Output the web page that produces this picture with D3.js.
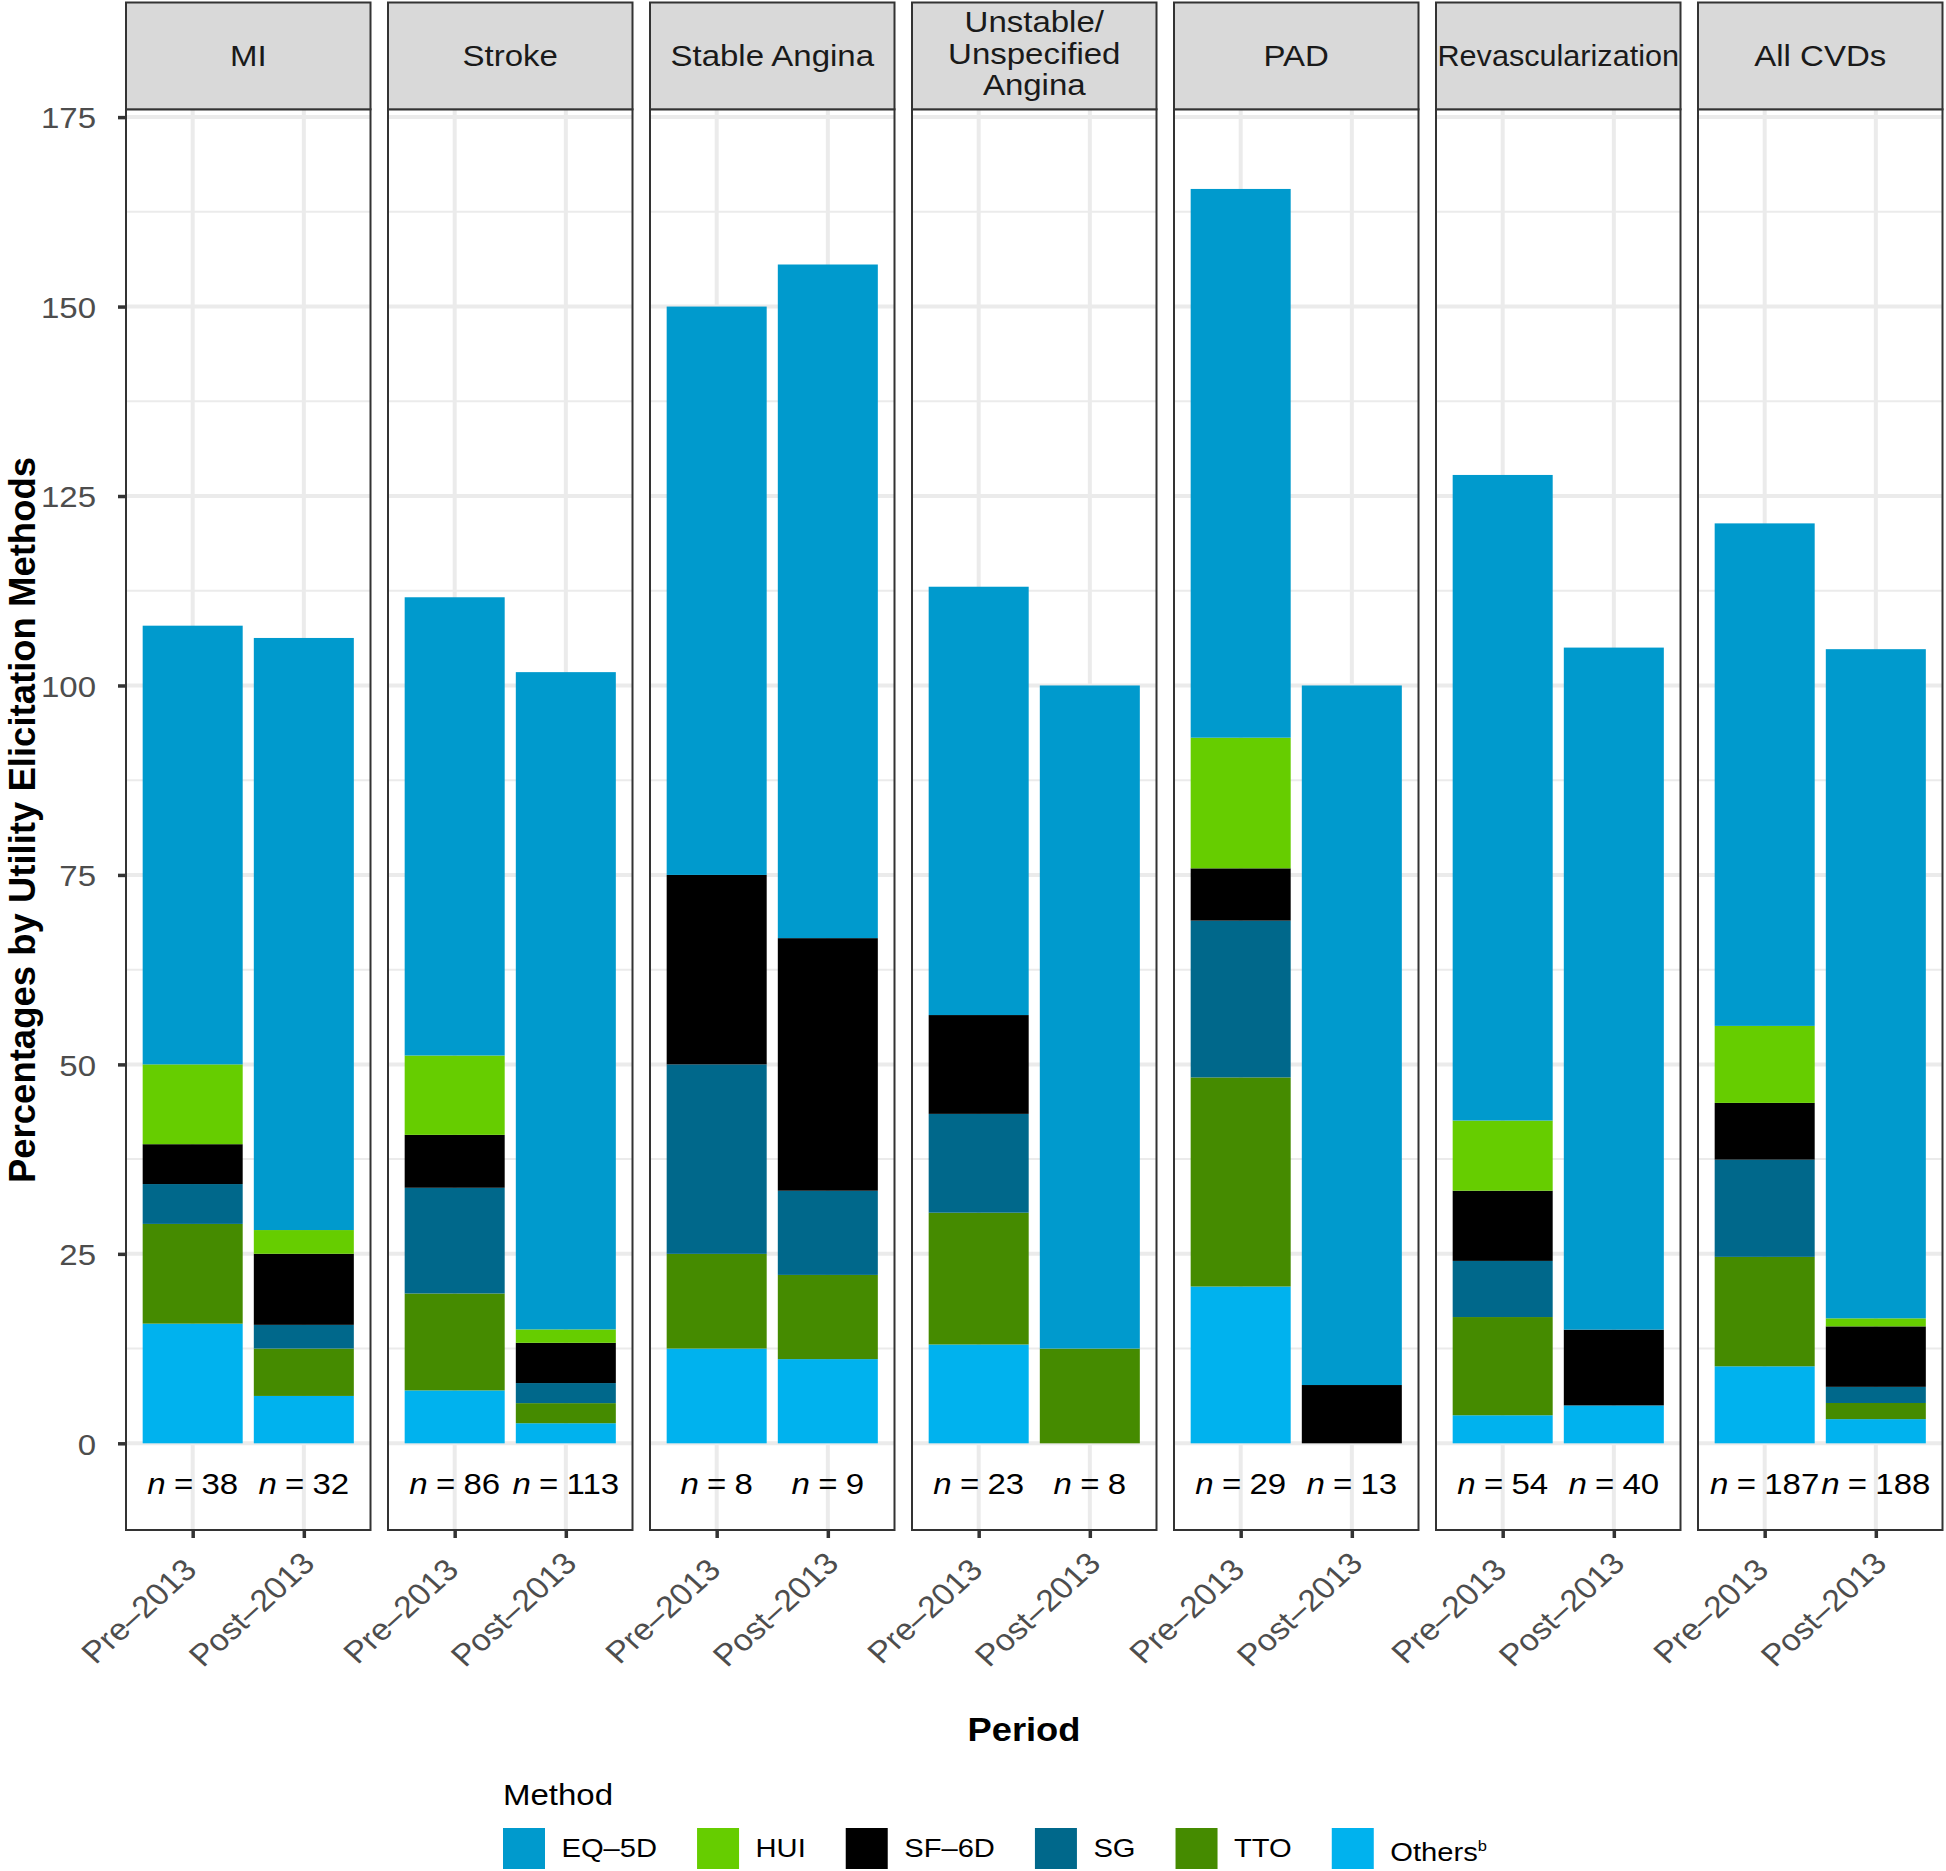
<!DOCTYPE html>
<html><head><meta charset="utf-8">
<script src="https://cdn.jsdelivr.net/npm/d3@7"></script>
<style>
body{margin:0;background:#fff}
svg{display:block}
text{font-family:"Liberation Sans",Arial,Helvetica,sans-serif}
</style>
</head><body>
<svg id="chart" width="1946" height="1871"></svg>
<script>
// ---------------- data ----------------
const facets = ["MI","Stroke","Stable Angina","Unstable/\nUnspecified\nAngina","PAD","Revascularization","All CVDs"];
const periods = ["Pre–2013","Post–2013"];
const methods = ["EQ–5D","HUI","SF–6D","SG","TTO","Others"];
const methodColors = ["#009ACD","#66CD00","#000000","#00688B","#458B00","#00B2EE"];
// percentages per facet: [Pre, Post]
const eq5d   = [[57.89,78.13],[60.47,86.73],[75.00,88.89],[56.52,87.50],[72.41,92.31],[85.19,90.00],[66.31,88.30]];
const hui    = [[10.53, 3.13],[10.47, 1.77],[ 0.00, 0.00],[ 0.00, 0.00],[17.24, 0.00],[ 9.26, 0.00],[10.16, 1.06]];
const sf6d   = [[ 5.26, 9.38],[ 6.98, 5.31],[25.00,33.33],[13.04, 0.00],[ 6.90, 7.69],[ 9.26,10.00],[ 7.49, 7.98]];
const sg     = [[ 5.26, 3.13],[13.95, 2.65],[25.00,11.11],[13.04, 0.00],[20.69, 0.00],[ 7.41, 0.00],[12.83, 2.13]];
const tto    = [[13.16, 6.25],[12.79, 2.65],[12.50,11.11],[17.39,12.50],[27.59, 0.00],[12.96, 0.00],[14.44, 2.13]];
const others = [[15.79, 6.25],[ 6.98, 2.65],[12.50,11.11],[13.04, 0.00],[20.69, 0.00],[ 3.70, 5.00],[10.16, 3.19]];
const nCounts = [[38,32],[86,113],[8,9],[23,8],[29,13],[54,40],[187,188]];
const yTicks = [0,25,50,75,100,125,150,175];
const yMinor = [12.5,37.5,62.5,87.5,112.5,137.5,162.5];

// ---------------- layout ----------------
const svg = d3.select("#chart");
const K = 1.1; // horizontal text stretch seen in the reference
const panelLeft = 126, panelW = 244.5, panelGap = 17.5;
const stripTop = 2.5, stripBottom = 109.3, panelBottom = 1530;
const grey20 = "#333333", grey30 = "#4D4D4D", grid = "#EBEBEB";
const fs = 30;

const seriesByMethod = [eq5d, hui, sf6d, sg, tto, others];
const stackOrder = ["Others","TTO","SG","SF–6D","HUI","EQ–5D"]; // bottom -> top
const colorOf = d3.scaleOrdinal().domain(methods).range(methodColors);

const y = d3.scaleLinear().domain([-11.44, 176.03]).range([panelBottom, stripBottom]);
const x = d3.scalePoint().domain(periods).range([0, panelW]).padding(0.6);
const barW = 0.9 * x.step();

const defs = svg.append("defs");
defs.append("clipPath").attr("id", "stripClip").append("rect")
  .attr("x", 0).attr("y", stripTop).attr("width", panelW).attr("height", stripBottom - stripTop);

facets.forEach((facet, fi) => {
  const px = panelLeft + fi * (panelW + panelGap);
  const g = svg.append("g").attr("transform", `translate(${px},0)`);

  const rows = periods.map((p, pi) => {
    const r = {period: p};
    methods.forEach((m, mi) => r[m] = seriesByMethod[mi][fi][pi]);
    return r;
  });
  const stacked = d3.stack().keys(stackOrder)(rows);

  // grid
  g.selectAll(".minor").data(yMinor).join("line")
    .attr("x1", 0).attr("x2", panelW).attr("y1", d => y(d)).attr("y2", d => y(d))
    .attr("stroke", grid).attr("stroke-width", 2);
  g.selectAll(".major").data(yTicks).join("line")
    .attr("x1", 0).attr("x2", panelW).attr("y1", d => y(d)).attr("y2", d => y(d))
    .attr("stroke", grid).attr("stroke-width", 4);
  g.selectAll(".vmajor").data(periods).join("line")
    .attr("x1", d => x(d)).attr("x2", d => x(d)).attr("y1", stripBottom).attr("y2", panelBottom)
    .attr("stroke", grid).attr("stroke-width", 4);

  // bars
  stacked.forEach(layer => {
    g.append("g").attr("fill", colorOf(layer.key))
      .selectAll("rect").data(layer.filter(d => d[1] - d[0] > 0)).join("rect")
      .attr("x", d => x(d.data.period) - barW / 2)
      .attr("width", barW)
      .attr("y", d => y(d[1]))
      .attr("height", d => y(d[0]) - y(d[1]));
  });

  // n labels
  periods.forEach((p, pi) => {
    const t = g.append("text")
      .attr("transform", `translate(${x(p)},${y(-5.2)}) scale(${K},1)`)
      .attr("dy", "0.36em").attr("text-anchor", "middle").attr("font-size", fs).attr("fill", "#000");
    t.append("tspan").attr("font-style", "italic").text("n");
    t.append("tspan").attr("dx", 7.5).text("=");
    t.append("tspan").attr("dx", 7.5).text(nCounts[fi][pi]);
  });

  // panel border
  g.append("rect").attr("x", 0).attr("y", stripBottom).attr("width", panelW)
    .attr("height", panelBottom - stripBottom).attr("fill", "none")
    .attr("stroke", grey20).attr("stroke-width", 2);

  // strip
  g.append("rect").attr("x", 0).attr("y", stripTop).attr("width", panelW)
    .attr("height", stripBottom - stripTop).attr("fill", "#D9D9D9");
  const lines = facet.split("\n");
  const lh = 31.5;
  const base0 = lines.length > 1 ? 32 : 66;
  const sg_ = g.append("g").attr("clip-path", "url(#stripClip)");
  lines.forEach((l, li) => {
    const t = sg_.append("text").attr("transform", `translate(${panelW / 2},${base0 + li * lh}) scale(${K},1)`)
      .attr("text-anchor", "middle").attr("font-size", fs).attr("fill", "#1A1A1A").text(l);
    const maxW = (panelW - 3) / K;
    if (t.node().getComputedTextLength() > maxW) {
      t.attr("textLength", maxW).attr("lengthAdjust", "spacingAndGlyphs");
    }
  });
  g.append("rect").attr("x", 0).attr("y", stripTop).attr("width", panelW)
    .attr("height", stripBottom - stripTop).attr("fill", "none")
    .attr("stroke", grey20).attr("stroke-width", 2);

  // x axis
  const xa = g.append("g").attr("transform", `translate(0,${panelBottom})`)
    .call(d3.axisBottom(x).tickSize(8).tickSizeOuter(0));
  xa.select(".domain").remove();
  xa.selectAll(".tick line").attr("stroke", grey20).attr("stroke-width", 3.5);
  xa.selectAll(".tick text")
    .attr("font-size", 30.5).attr("fill", grey30).attr("font-family", "Liberation Sans,Arial,sans-serif")
    .attr("text-anchor", "start").attr("y", 0).attr("dy", 0)
    .attr("transform", `translate(-63.4,104) scale(${K},1) rotate(-45)`)
    .each(function () {
      const L = this.getComputedTextLength();
      d3.select(this).attr("x", -L / 3);
    });

  // y axis on first panel
  if (fi === 0) {
    const ya = g.append("g").call(d3.axisLeft(y).tickValues(yTicks).tickSize(8));
    ya.select(".domain").remove();
    ya.selectAll(".tick line").attr("stroke", grey20).attr("stroke-width", 3.5);
    ya.selectAll(".tick text").attr("font-size", fs).attr("fill", grey30)
      .attr("font-family", "Liberation Sans,Arial,sans-serif")
      .attr("x", 0).attr("dy", "0.36em").attr("text-anchor", "end")
      .attr("transform", `translate(-30,0) scale(${K},1)`);
  }
});

// axis titles
svg.append("text").attr("transform", `translate(34.5,820) rotate(-90)`)
  .attr("text-anchor", "middle").attr("font-size", 36.5).attr("font-weight", "bold")
  .text("Percentages by Utility Elicitation Methods");
svg.append("text").attr("transform", `translate(1024,1741) scale(${K},1)`)
  .attr("text-anchor", "middle").attr("font-size", 33).attr("font-weight", "bold")
  .text("Period");

// legend
const leg = svg.append("g");
leg.append("text").attr("transform", `translate(503,1805) scale(${K},1)`).attr("font-size", fs).text("Method");
let lx = 503;
methods.forEach((m, mi) => {
  leg.append("rect").attr("x", lx).attr("y", 1828).attr("width", 42).attr("height", 41)
    .attr("fill", colorOf(m));
  const t = leg.append("text")
    .attr("transform", `translate(${lx + 58.5},${m === "Others" ? 1860.5 : 1856.7}) scale(${K},1)`)
    .attr("font-size", 26.5);
  t.append("tspan").text(m);
  if (m === "Others") t.append("tspan").attr("font-size", 15).attr("dy", -10).text("b");
  lx += 58.5 + t.node().getComputedTextLength() * K + 40;
});
</script>
</body></html>
